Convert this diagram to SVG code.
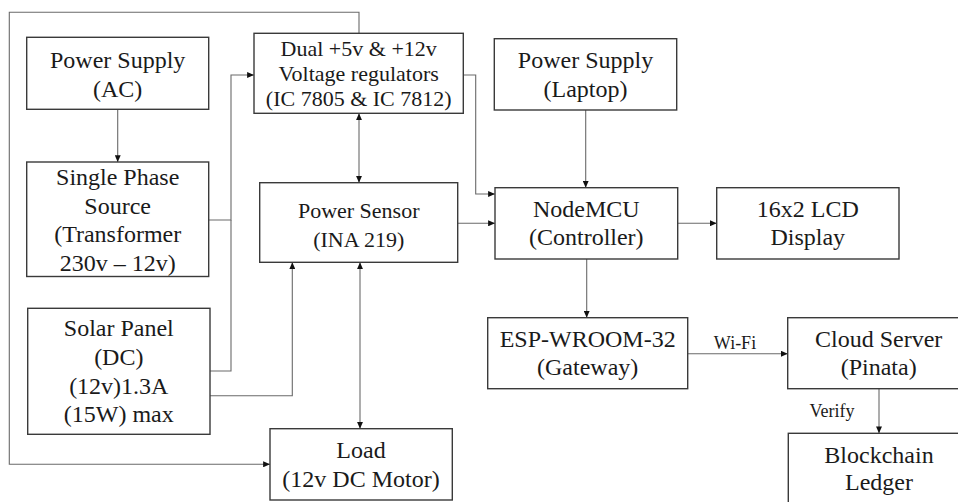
<svg xmlns="http://www.w3.org/2000/svg" width="958" height="502" viewBox="0 0 958 502">
<defs>
<style>
.box{fill:#fff;stroke:#3a3a3a;stroke-width:1.4}
.t{font-family:"Liberation Serif","Times New Roman",serif;font-size:24px;fill:#1a1a1a;text-anchor:middle}
.s{font-size:22px}
.lbl{font-family:"Liberation Serif","Times New Roman",serif;font-size:18px;fill:#1a1a1a}
.c{fill:none;stroke:#6a6a6a;stroke-width:1.1}
</style>
<marker id="ah" viewBox="0 0 8 7" refX="8" refY="3.5" markerWidth="7" markerHeight="6" markerUnits="userSpaceOnUse" orient="auto-start-reverse">
<path d="M0,0 L8,3.5 L0,7 z" fill="#111"/>
</marker>
</defs>
<rect width="958" height="502" fill="#fff"/>
<g id="connectors">
<path class="c" d="M117.7,109.3 V162" marker-end="url(#ah)"/>
<path class="c" d="M359,33.3 V12.3 H9.3 V464.3 H270" marker-end="url(#ah)"/>
<path class="c" d="M208.7,220 H231 V75 H254" marker-end="url(#ah)"/>
<path class="c" d="M210,371 H231 V220"/>
<path class="c" d="M210,395.7 H292.3 V262.3" marker-end="url(#ah)"/>
<path class="c" d="M359,113.3 V182.7" marker-start="url(#ah)" marker-end="url(#ah)"/>
<path class="c" d="M360,262.3 V428.7" marker-start="url(#ah)" marker-end="url(#ah)"/>
<path class="c" d="M463.3,75 H475.7 V194 H495" marker-end="url(#ah)"/>
<path class="c" d="M457.7,223.3 H495" marker-end="url(#ah)"/>
<path class="c" d="M585.7,110 V187.7" marker-end="url(#ah)"/>
<path class="c" d="M677.7,223.3 H716.7" marker-end="url(#ah)"/>
<path class="c" d="M586.7,259 V317.7" marker-end="url(#ah)"/>
<path class="c" d="M687.7,353.7 H787.7" marker-end="url(#ah)"/>
<path class="c" d="M879,388.7 V433.3" marker-end="url(#ah)"/>
<text class="lbl" x="735" y="348.5" text-anchor="middle">Wi-Fi</text>
<text class="lbl" x="832" y="416.5" text-anchor="middle">Verify</text>
</g>
<g id="ps_ac">
<rect class="box" x="26.7" y="37.3" width="182" height="72"/>
<text class="t" x="117.7" y="68.3">Power Supply</text>
<text class="t" x="117.7" y="96.7">(AC)</text>
</g>
<g id="single_phase">
<rect class="box" x="26.7" y="162" width="182" height="114.5"/>
<text class="t" x="117.7" y="185">Single Phase</text>
<text class="t" x="117.7" y="213.5">Source</text>
<text class="t" x="117.7" y="242">(Transformer</text>
<text class="t" x="117.7" y="270.7">230v – 12v)</text>
</g>
<g id="solar">
<rect class="box" x="27.7" y="308.3" width="182.3" height="126"/>
<text class="t" x="118.8" y="336">Solar Panel</text>
<text class="t" x="118.8" y="365">(DC)</text>
<text class="t" x="118.8" y="394">(12v)1.3A</text>
<text class="t" x="118.8" y="422.3">(15W) max</text>
</g>
<g id="regulators">
<rect class="box" x="254" y="33.3" width="209.3" height="80"/>
<text class="t s" x="358.7" y="56">Dual +5v &amp; +12v</text>
<text class="t s" x="358.7" y="81">Voltage regulators</text>
<text class="t s" x="358.7" y="106">(IC 7805 &amp; IC 7812)</text>
</g>
<g id="power_sensor">
<rect class="box" x="259.7" y="182.7" width="198" height="79.6"/>
<text class="t s" x="358.7" y="218.3">Power Sensor</text>
<text class="t s" x="358.7" y="246.5">(INA 219)</text>
</g>
<g id="load">
<rect class="box" x="270" y="428.7" width="182.3" height="71.3"/>
<text class="t" x="361" y="458.3">Load</text>
<text class="t" x="361" y="486.7">(12v DC Motor)</text>
</g>
<g id="ps_laptop">
<rect class="box" x="494.3" y="38.7" width="182.4" height="71.3"/>
<text class="t" x="585.5" y="68.3">Power Supply</text>
<text class="t" x="585.5" y="96.7">(Laptop)</text>
</g>
<g id="nodemcu">
<rect class="box" x="495" y="187.7" width="182.7" height="71.3"/>
<text class="t" x="586.3" y="217">NodeMCU</text>
<text class="t" x="586.3" y="245">(Controller)</text>
</g>
<g id="lcd">
<rect class="box" x="716.7" y="187.7" width="182.3" height="71.3"/>
<text class="t" x="807.8" y="217">16x2 LCD</text>
<text class="t" x="807.8" y="245">Display</text>
</g>
<g id="esp">
<rect class="box" x="487.7" y="317.7" width="200" height="71"/>
<text class="t" x="587.7" y="347.3">ESP-WROOM-32</text>
<text class="t" x="587.7" y="375">(Gateway)</text>
</g>
<g id="cloud">
<rect class="box" x="787.7" y="317.7" width="182" height="71"/>
<text class="t" x="878.7" y="347.3">Cloud Server</text>
<text class="t" x="878.7" y="375">(Pinata)</text>
</g>
<g id="blockchain">
<rect class="box" x="788.3" y="433.3" width="182" height="80"/>
<text class="t" x="879" y="463.3">Blockchain</text>
<text class="t" x="879" y="490">Ledger</text>
</g>
</svg>
